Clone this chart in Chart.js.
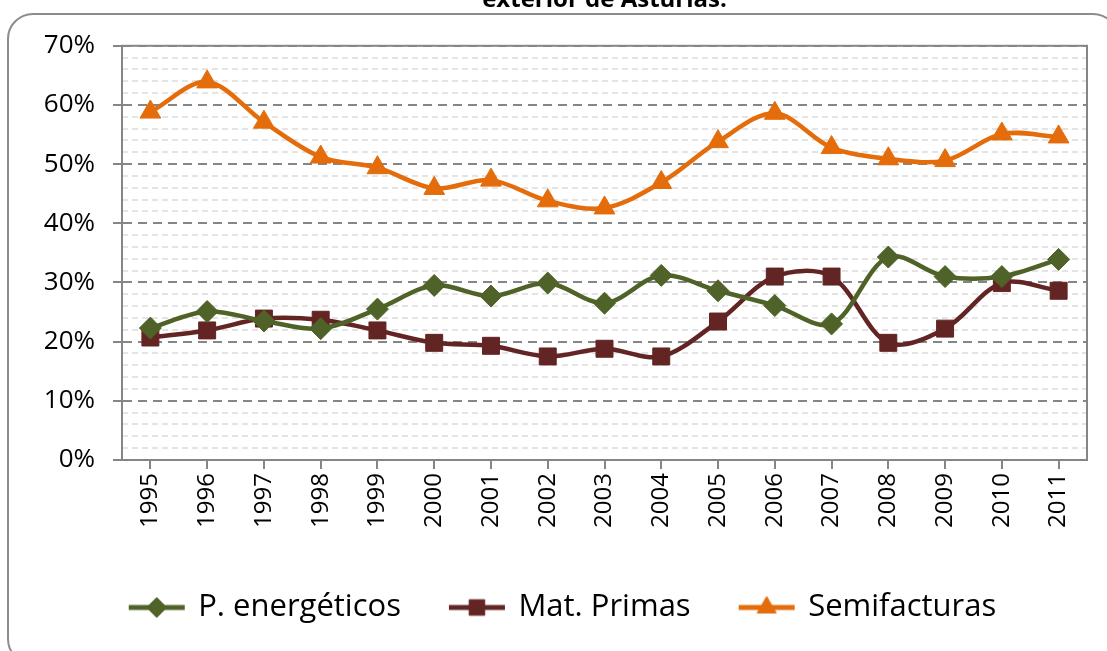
<!DOCTYPE html>
<html>
<head>
<meta charset="utf-8">
<script src="https://cdn.jsdelivr.net/npm/chart.js@4.4.0/dist/chart.umd.min.js"></script>
<style>
  html, body { margin: 0; padding: 0; background: #fff; overflow: hidden; }
  #frame { position: absolute; left: 7px; top: 13px; width: 1112px; height: 652px; border: 2px solid #8c8c8c; border-radius: 26px; box-sizing: border-box; }
  #wrap { position: absolute; left: 0; top: -40px; width: 1107px; height: 691px; }
</style>
</head>
<body>
<div id="frame"></div>
<div id="wrap"><canvas id="chart-canvas" width="1107" height="691"></canvas></div>
<script>
const years = ['1995', '1996', '1997', '1998', '1999', '2000', '2001', '2002', '2003',
  '2004', '2005', '2006', '2007', '2008', '2009', '2010', '2011'];

// shares in %
const energeticos = [22.3, 25.1, 23.5, 22.2, 25.5, 29.5, 27.7, 29.9, 26.5, 31.2, 28.6, 26.1, 23.0, 34.3, 31.0, 31.0, 33.9];
const matPrimas = [20.7, 21.9, 23.9, 23.7, 21.9, 19.8, 19.3, 17.5, 18.8, 17.5, 23.4, 31.0, 31.0, 19.8, 22.2, 29.9, 28.6];
const semifacturas = [58.8, 63.9, 57.1, 51.2, 49.4, 45.9, 47.3, 43.8, 42.6, 46.9, 53.8, 58.6, 52.8, 50.9, 50.6, 55.1, 54.6];

const seriesNames = ['P. energéticos', 'Mat. Primas', 'Semifacturas'];
const titleText = 'exterior de Asturias.';

const GREEN = '#4F6228';
const RED = '#632523';
const ORANGE = '#E46C0A';
const GRID = '#868686';

Chart.defaults.font.family = "'Open Sans', sans-serif";
Chart.defaults.color = '#000';

// legend glyph: short line with the marker in the middle
function legendIcon(color, style, radius) {
  const c = document.createElement('canvas');
  c.width = 100;
  c.height = 28;
  const g = c.getContext('2d');
  g.strokeStyle = color;
  g.lineWidth = 5;
  g.beginPath();
  g.moveTo(42, 14);
  g.lineTo(98, 14);
  g.stroke();
  g.fillStyle = color;
  g.strokeStyle = color;
  g.lineWidth = 1;
  Chart.helpers.drawPoint(g, { pointStyle: style, radius: radius, borderWidth: 1, rotation: 0 }, 70, 14);
  return c;
}
const icons = [
  legendIcon(GREEN, 'rectRot', 10),
  legendIcon(RED, 'rect', 11),
  legendIcon(ORANGE, 'triangle', 11)
];

const plotFrame = {
  id: 'plotFrame',
  beforeDatasetsDraw(chart) {
    const { ctx, chartArea: a } = chart;
    ctx.save();
    ctx.strokeStyle = GRID;
    ctx.lineWidth = 2;
    ctx.strokeRect(a.left, a.top, a.width, a.height);
    ctx.restore();
  }
};

function lineSet(label, data, color, style, radius) {
  return {
    label: label,
    data: data,
    borderColor: color,
    backgroundColor: color,
    borderWidth: 4.5,
    tension: 0.33,
    pointStyle: style,
    pointRadius: radius,
    pointBorderWidth: 1,
    pointBackgroundColor: color,
    pointBorderColor: color
  };
}

const chart = new Chart(document.getElementById('chart-canvas'), {
  type: 'line',
  data: {
    labels: years,
    datasets: [
      lineSet(seriesNames[0], energeticos, GREEN, 'rectRot', 11),
      lineSet(seriesNames[1], matPrimas, RED, 'rect', 12),
      lineSet(seriesNames[2], semifacturas, ORANGE, 'triangle', 12)
    ]
  },
  options: {
    responsive: false,
    animation: false,
    layout: { padding: { top: 26, right: 20, bottom: 18, left: 0 } },
    plugins: {
      tooltip: { enabled: false },
      title: {
        display: true,
        fullSize: false,
        text: titleText,
        font: { size: 24, weight: 'bold' },
        padding: { top: 0, bottom: 31 }
      },
      legend: {
        position: 'bottom',
        labels: {
          usePointStyle: true,
          pointStyleWidth: 92,
          padding: 10,
          font: { size: 31 },
          generateLabels: (ch) => Chart.defaults.plugins.legend.labels.generateLabels(ch)
            .map((item, i) => Object.assign(item, { pointStyle: icons[i] }))
        }
      }
    },
    scales: {
      x: {
        offset: true,
        ticks: { minRotation: 90, maxRotation: 90, autoSkip: false, font: { size: 24 }, padding: 4 },
        grid: { drawOnChartArea: false, tickLength: 9, color: GRID, lineWidth: 2 },
        border: { color: GRID, width: 2 },
        afterFit: (s) => { s.height = 122; }
      },
      y: {
        min: 0,
        max: 70,
        ticks: { stepSize: 10, font: { size: 26 }, padding: 18, callback: (v) => v + '%' },
        grid: { color: GRID, lineWidth: 2, tickLength: 9, tickColor: GRID, tickWidth: 2 },
        border: { color: GRID, width: 2, dash: [9, 6] },
        afterFit: (s) => { s.width = 122; }
      },
      yMinor: {
        position: 'right',
        min: 0,
        max: 70,
        ticks: { stepSize: 2, display: false },
        grid: {
          color: (c) => (c.tick && c.tick.value % 10 === 0) ? 'rgba(0,0,0,0)' : '#e4e4e4',
          lineWidth: 2,
          drawTicks: false
        },
        border: { display: false, dash: [6, 4] },
        afterFit: (s) => { s.width = 0; }
      }
    }
  },
  plugins: [plotFrame]
});
</script>
</body>
</html>
